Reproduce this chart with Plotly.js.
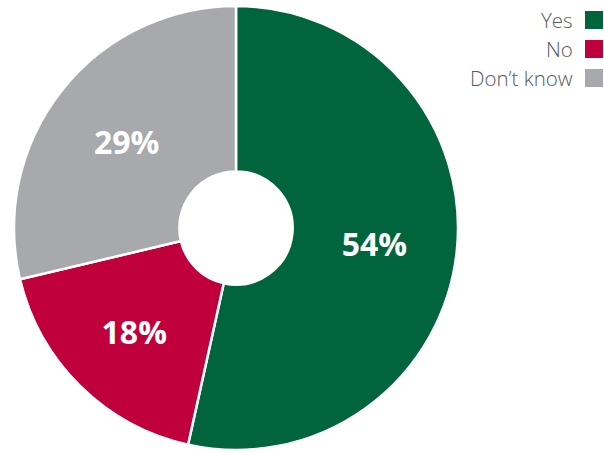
<!DOCTYPE html>
<html><head><meta charset="utf-8">
<script src="https://cdn.plot.ly/plotly-3.0.1.min.js"></script>
<style>html,body{margin:0;padding:0;background:#fff}#c{width:604px;height:453px}</style>
</head><body><div id="c"></div>
<script>
const categories = ["Yes", "No", "Don\u2019t know"];
const values = [54, 18, 29];
const colors = ["#00643C", "#C0003C", "#A7A9AC"];

const W = 604, H = 453;
const cx = 236, cy = 228, R = 222;

const trace = {
  type: "pie",
  labels: categories,
  values: values,
  sort: false,
  direction: "clockwise",
  rotation: 0,
  hole: 0.255,
  marker: {colors: colors, line: {color: "#ffffff", width: 2.5}},
  texttemplate: "%{value}%",
  textposition: "inside",
  insidetextorientation: "horizontal",
  textfont: {family: "Open Sans", size: 32, color: "#ffffff", weight: 700},
  domain: {x: [(cx - R) / W, (cx + R) / W], y: [(H - cy - R) / H, (H - cy + R) / H]},
  showlegend: false,
  hoverinfo: "skip"
};

const annotations = [], shapes = [];
categories.forEach((c, i) => {
  const yTop = 11 + i * 29;
  annotations.push({
    xref: "paper", yref: "paper", x: 575 / W, y: 1 - (yTop + 9) / H,
    xanchor: "right", yanchor: "middle", showarrow: false,
    text: c, font: {family: "Open Sans", size: 20.5, color: "#58595B", weight: 300}
  });
  shapes.push({
    type: "rect", xref: "paper", yref: "paper",
    x0: 585 / W, x1: 603 / W, y0: 1 - (yTop + 18) / H, y1: 1 - yTop / H,
    fillcolor: colors[i], line: {width: 0}
  });
});

Plotly.newPlot("c", [trace], {
  width: W, height: H,
  margin: {l: 0, r: 0, t: 0, b: 0},
  paper_bgcolor: "#ffffff",
  annotations: annotations, shapes: shapes
}, {displayModeBar: false, staticPlot: true});
</script></body></html>
